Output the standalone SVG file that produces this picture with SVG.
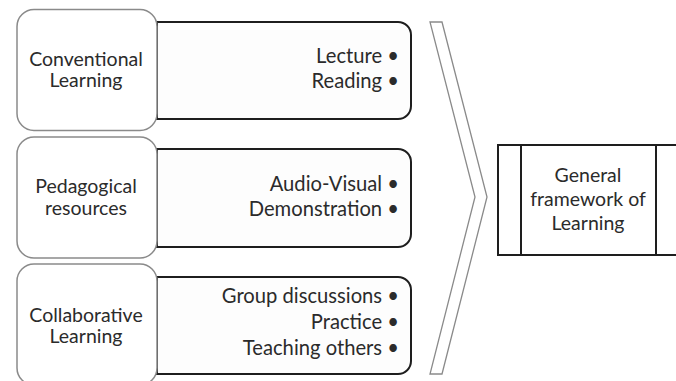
<svg xmlns="http://www.w3.org/2000/svg" width="676" height="381" viewBox="0 0 676 381">
<style>
text{font-family:Lato,"Liberation Sans",sans-serif;font-size:19.5px;fill:#2b2b2b}
.c{text-anchor:middle}
.r{text-anchor:end;font-size:20.2px}
.lb{fill:#fff;stroke:#8a8a8a;stroke-width:1.5}
.rb{fill:#fdfdfd;stroke:#1e1e1e;stroke-width:2}
.ch{fill:#fff;stroke:#8a8a8a;stroke-width:1.3}
.gb{fill:#fff;stroke:#1e1e1e;stroke-width:2}
</style>
<rect width="676" height="381" fill="#fff"/>
<g id="row1">
<path class="rb" d="M157,22 H398 A13,13 0 0 1 411,35 V106 A13,13 0 0 1 398,119 H157 Z"/>
<rect id="conventional" class="lb" x="17" y="9.5" width="140" height="121" rx="17"/>
<text class="c" x="86" y="66">Conventional</text>
<text class="c" x="86" y="87">Learning</text>
<text class="r" x="399" y="63">Lecture •</text>
<text class="r" x="399" y="88">Reading •</text>
</g>
<g id="row2">
<path class="rb" d="M157,149 H398 A13,13 0 0 1 411,162 V234 A13,13 0 0 1 398,247 H157 Z"/>
<rect id="pedagogical" class="lb" x="17" y="137" width="140" height="121" rx="17"/>
<text class="c" x="86" y="193">Pedagogical</text>
<text class="c" x="86" y="215">resources</text>
<text class="r" x="399" y="191">Audio-Visual •</text>
<text class="r" x="399" y="216">Demonstration •</text>
</g>
<g id="row3">
<path class="rb" d="M157,277 H398 A13,13 0 0 1 411,290 V361 A13,13 0 0 1 398,374 H157 Z"/>
<rect id="collaborative" class="lb" x="17" y="264" width="140" height="121" rx="17"/>
<text class="c" x="86" y="322">Collaborative</text>
<text class="c" x="86" y="343">Learning</text>
<text class="r" x="399" y="303">Group discussions •</text>
<text class="r" x="399" y="329">Practice •</text>
<text class="r" x="399" y="355">Teaching others •</text>
</g>
<g id="connectors">
<polygon class="ch" points="430,22 442,22 487,197 442,374 430,374 475,197"/>
</g>
<g id="framework">
<rect class="gb" x="498" y="145" width="180" height="110"/>
<line x1="521" y1="145" x2="521" y2="255" stroke="#1e1e1e" stroke-width="2"/>
<line x1="656" y1="145" x2="656" y2="255" stroke="#1e1e1e" stroke-width="2"/>
<text class="c" x="588" y="182">General</text>
<text class="c" x="588" y="206">framework of</text>
<text class="c" x="588" y="230">Learning</text>
</g>
</svg>
